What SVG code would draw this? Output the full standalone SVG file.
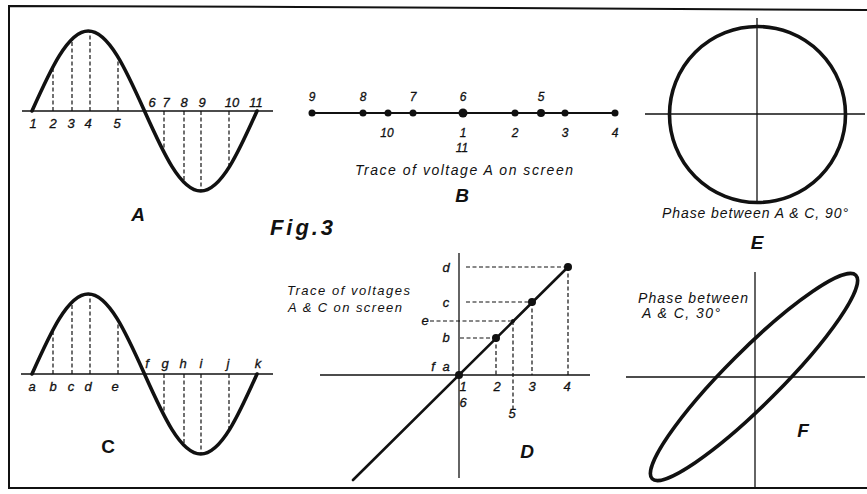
<svg xmlns="http://www.w3.org/2000/svg" width="867" height="494" viewBox="0 0 867 494">
<style>
.t{font-family:"Liberation Sans",Arial,sans-serif;font-style:italic;fill:#111;text-anchor:middle}
.n{font-size:13px;stroke:#111;stroke-width:0.3}
.s{font-size:14px;text-anchor:start}
.st{text-anchor:start}
.big{font-size:19px;font-weight:bold}
.ax{stroke:#111;stroke-width:1.3;fill:none}
.dash{stroke:#111;stroke-width:1.2;stroke-dasharray:4 2.5;fill:none}
.thick{stroke:#111;stroke-width:3.6;fill:none;stroke-linecap:round}
.frame{stroke:#111;stroke-width:2;fill:none}
</style>
<defs>
<g id="wave">
<path class="thick" d="M32,111 C50.35,70.02 67.89,31 88.25,31 C108.61,31 126.15,70.02 144.5,111 C162.85,151.98 180.39,191 200.75,191 C221.11,191 238.65,151.98 257,111"/>
<path class="dash" d="M53,111V67 M72,111V39 M90,111V32 M118,111V57 M164,111V152 M184,111V182 M201,111V190 M229,111V167"/>
</g>
</defs>
<rect width="867" height="494" fill="#fff"/>
<g id="frame">
<path class="frame" d="M867,10 L300,7 L9,6 L9,488 L867,488"/>
</g>
<g id="panelA">
<line class="ax" x1="22" y1="111" x2="273" y2="111"/>
<use href="#wave"/>
<g class="t n">
<text x="33" y="128">1</text><text x="53" y="128">2</text><text x="71" y="128">3</text><text x="88" y="128">4</text><text x="117" y="128">5</text>
<text x="152" y="107">6</text><text x="166" y="107">7</text><text x="184" y="107">8</text><text x="202" y="107">9</text><text x="232" y="107">10</text><text x="256" y="107">11</text>
</g>
<text class="t big" x="138" y="221">A</text>
</g>
<g id="title">
<text class="t st" x="270" y="235" font-size="22" font-weight="bold" textLength="63">Fig.3</text>
</g>
<g id="panelB">
<line x1="312" y1="113" x2="615" y2="113" stroke="#111" stroke-width="2"/>
<g fill="#111">
<circle cx="312" cy="113" r="3.5"/><circle cx="363" cy="113" r="3.5"/><circle cx="388" cy="113" r="3.5"/><circle cx="413" cy="113" r="3.5"/><circle cx="463" cy="113" r="4.5"/><circle cx="515" cy="113" r="3.5"/><circle cx="541" cy="113" r="4"/><circle cx="565" cy="113" r="3.5"/><circle cx="615" cy="113" r="3.5"/>
</g>
<g class="t n" style="font-size:12px">
<text x="312" y="101">9</text><text x="363" y="101">8</text><text x="413" y="101">7</text><text x="463" y="101">6</text><text x="541" y="101">5</text>
<text x="387" y="137">10</text><text x="463" y="137">1</text><text x="515" y="137">2</text><text x="565" y="137">3</text><text x="615" y="137">4</text>
<text x="462" y="152">11</text>
</g>
<text class="t st" x="355" y="175" font-size="14" textLength="218">Trace of voltage A on screen</text>
<text class="t big" x="462" y="202">B</text>
</g>
<g id="panelE">
<line class="ax" x1="645" y1="114" x2="865" y2="114"/>
<line class="ax" x1="757" y1="18" x2="757" y2="203"/>
<circle cx="757.5" cy="114.5" r="88" class="thick" stroke-width="3"/>
<text class="t s" x="662" y="218" textLength="186">Phase between A &amp; C, 90°</text>
<text class="t big" x="757" y="249">E</text>
</g>
<g id="panelC">
<line class="ax" x1="21" y1="374" x2="273" y2="374"/>
<use href="#wave" transform="translate(0,263)"/>
<g class="t n">
<text x="32" y="391">a</text><text x="53" y="391">b</text><text x="71" y="391">c</text><text x="88" y="391">d</text><text x="115" y="391">e</text>
<text x="147" y="368">f</text><text x="165" y="368">g</text><text x="183" y="368">h</text><text x="201" y="368">i</text><text x="228" y="368">j</text><text x="258" y="368">k</text>
</g>
<text class="t big" x="108" y="453" style="font-style:normal">C</text>
</g>
<g id="panelD">
<line class="ax" x1="320" y1="375" x2="590" y2="375"/>
<line class="ax" x1="459" y1="253" x2="459" y2="478"/>
<line x1="353" y1="480" x2="568" y2="267" stroke="#111" stroke-width="2.6" stroke-linecap="round"/>
<path class="dash" d="M466,267H568 M466,302H532 M430,321H513 M460,338H496 M568,267V375 M532,302V375 M496,338V375 M513,321V410"/>
<g fill="#111">
<circle cx="459" cy="375" r="4"/><circle cx="496" cy="338" r="4"/><circle cx="513" cy="321" r="2"/><circle cx="532" cy="302" r="4"/><circle cx="568" cy="267" r="4"/>
</g>
<g class="t n">
<text x="446" y="272">d</text><text x="446" y="307">c</text><text x="425" y="325">e</text><text x="446" y="342">b</text><text x="433" y="371">f</text><text x="446" y="371">a</text>
<text x="463" y="391">1</text><text x="463" y="407">6</text><text x="497" y="391">2</text><text x="532" y="391">3</text><text x="567" y="391">4</text><text x="512" y="418">5</text>
</g>
<text class="t st" x="287" y="295" font-size="13" textLength="123">Trace of voltages</text>
<text class="t st" x="288" y="312" font-size="13" textLength="114">A &amp; C on screen</text>
<text class="t big" x="527" y="458">D</text>
</g>
<g id="panelF">
<line class="ax" x1="626" y1="377" x2="865" y2="377"/>
<line class="ax" x1="755" y1="272" x2="755" y2="487"/>
<ellipse cx="754" cy="377" rx="144" ry="27" transform="rotate(-45 754 377)" class="thick" stroke-width="3"/>
<text class="t s" x="638" y="303" textLength="110">Phase between</text>
<text class="t s" x="642" y="318" textLength="78">A &amp; C, 30°</text>
<text class="t big" x="803" y="437">F</text>
</g>
</svg>
